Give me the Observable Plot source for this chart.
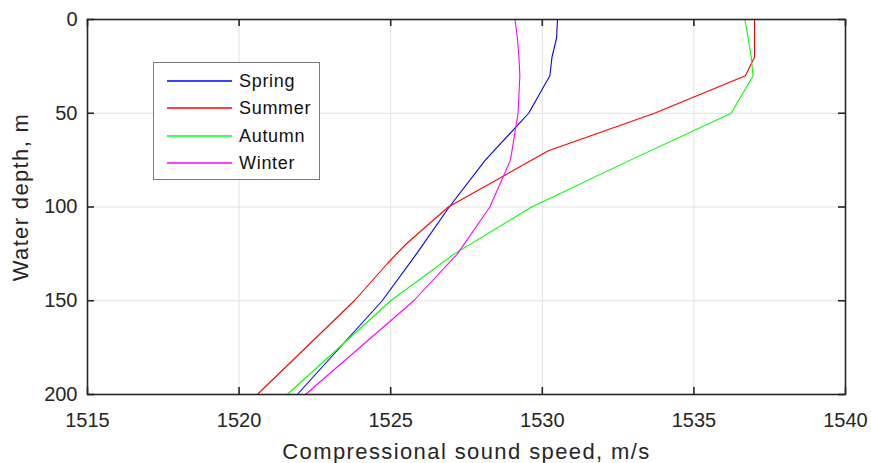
<!DOCTYPE html>
<html>
<head>
<meta charset="utf-8">
<script src="https://cdn.jsdelivr.net/npm/d3@7"></script>
<script src="https://cdn.jsdelivr.net/npm/@observablehq/plot@0.6"></script>
<style>
  html, body { margin: 0; padding: 0; background: #fff; }
  #wrap { position: relative; width: 871px; height: 463px; font-family: "Liberation Sans", Arial, sans-serif; }
  #wrap > svg { overflow: visible; }
  #legend { position: absolute; left: 153px; top: 62px; width: 167px; height: 118px; border: 1px solid #7a7a7a; background: #fff; box-sizing: border-box; }
  #legend svg { position: absolute; left: 0; top: 0; }
  .lab { position: absolute; left: 85px; font-size: 18px; letter-spacing: 0.7px; color: #111; white-space: nowrap; line-height: 20px; }
</style>
</head>
<body>
<div id="wrap"><div id="legend"></div></div>
<script>
const seriesNames = ["Spring", "Summer", "Autumn", "Winter"];
const seriesColors = ["#0000ff", "#ff0000", "#00ff00", "#ff00ff"];

const springDepth = [0, 10, 20, 30, 50, 75, 100, 125, 150, 200];
const springSpeed = [1530.5, 1530.47, 1530.32, 1530.25, 1529.55, 1528.12, 1526.93, 1525.85, 1524.72, 1521.92];

const summerDepth = [0, 20, 30, 50, 70, 100, 120, 130, 150, 200];
const summerSpeed = [1537.0, 1537.0, 1536.7, 1533.7, 1530.2, 1526.9, 1525.49, 1524.9, 1523.8, 1520.6];

const autumnDepth = [0, 10, 20, 30, 50, 75, 100, 125, 150, 200];
const autumnSpeed = [1536.68, 1536.79, 1536.89, 1536.95, 1536.23, 1532.9, 1529.65, 1527.1, 1525.0, 1521.59];

const winterDepth = [0, 10, 20, 30, 50, 75, 100, 125, 150, 200];
const winterSpeed = [1529.1, 1529.18, 1529.23, 1529.26, 1529.2, 1528.95, 1528.27, 1527.2, 1525.76, 1522.19];

const xTicks = [1515, 1520, 1525, 1530, 1535, 1540];
const yTicks = [0, 50, 100, 150, 200];
const xLabel = "Compressional sound speed, m/s";
const yLabel = "Water depth, m";

const depthArrays = [springDepth, summerDepth, autumnDepth, winterDepth];
const speedArrays = [springSpeed, summerSpeed, autumnSpeed, winterSpeed];
const data = [];
seriesNames.forEach((name, i) => {
  depthArrays[i].forEach((d, j) => data.push({season: name, depth: d, speed: speedArrays[i][j]}));
});

const W = 871, H = 463, mL = 87, mR = 26, mT = 19, mB = 69;
const plotW = W - mL - mR, plotH = H - mT - mB;
const tickLen = 7;
const axisColor = "#262626";

const chart = Plot.plot({
  width: W, height: H,
  marginLeft: mL, marginRight: mR, marginTop: mT, marginBottom: mB,
  style: {fontFamily: '"Liberation Sans", Arial, sans-serif', color: axisColor, background: "transparent", overflow: "visible"},
  x: {domain: [1515, 1540]},
  y: {domain: [0, 200], reverse: true},
  color: {domain: seriesNames, range: seriesColors},
  marks: [
    Plot.ruleX(xTicks.slice(1, -1), {stroke: "#e2e2e2", strokeWidth: 1}),
    Plot.ruleY(yTicks.slice(1, -1), {stroke: "#e2e2e2", strokeWidth: 1}),
    Plot.line(data, {x: "speed", y: "depth", z: "season", stroke: "season", strokeWidth: 1.1, sort: null}),
    Plot.tickX(xTicks, {x: d => d, insetTop: plotH - tickLen, stroke: axisColor, strokeWidth: 1.6}),
    Plot.tickX(xTicks, {x: d => d, insetBottom: plotH - tickLen, stroke: axisColor, strokeWidth: 1.6}),
    Plot.tickY(yTicks, {y: d => d, insetRight: plotW - tickLen, stroke: axisColor, strokeWidth: 1.6}),
    Plot.tickY(yTicks, {y: d => d, insetLeft: plotW - tickLen, stroke: axisColor, strokeWidth: 1.6}),
    Plot.frame({stroke: axisColor, strokeWidth: 1.6}),
    Plot.axisX(xTicks, {anchor: "bottom", tickSize: 0, tickPadding: 18, fontSize: 20, label: null, fill: axisColor, tickFormat: d => String(d)}),
    Plot.axisY(yTicks, {anchor: "left", tickSize: 0, tickPadding: 10, fontSize: 20, label: null, fill: axisColor, tickFormat: d => String(d)}),
    Plot.text([xLabel], {text: d => d, frameAnchor: "bottom", textAnchor: "middle", dy: 49, fontSize: 22, fill: axisColor, lineAnchor: "top"}),
    Plot.text([yLabel], {text: d => d, frameAnchor: "left", textAnchor: "middle", dx: -75, dy: -10, rotate: -90, fontSize: 22, fill: axisColor, lineAnchor: "top"})
  ]
});
chart.querySelectorAll("text").forEach(t => {
  if (t.textContent === xLabel) t.style.letterSpacing = "1.4px";
  if (t.textContent === yLabel) t.style.letterSpacing = "1.35px";
});
const wrap = document.getElementById("wrap");
wrap.insertBefore(chart, wrap.firstChild);

const legend = document.getElementById("legend");
const rowCenters = [18, 45, 73, 100];
const ns = "http://www.w3.org/2000/svg";
const lsvg = document.createElementNS(ns, "svg");
lsvg.setAttribute("width", 165);
lsvg.setAttribute("height", 116);
legend.appendChild(lsvg);
seriesNames.forEach((name, i) => {
  const ln = document.createElementNS(ns, "line");
  ln.setAttribute("x1", 13);
  ln.setAttribute("x2", 78);
  ln.setAttribute("y1", rowCenters[i]);
  ln.setAttribute("y2", rowCenters[i]);
  ln.setAttribute("stroke", seriesColors[i]);
  ln.setAttribute("stroke-width", 1.6);
  lsvg.appendChild(ln);
  const lab = document.createElement("div");
  lab.className = "lab";
  lab.style.top = (rowCenters[i] - 10) + "px";
  lab.textContent = name;
  legend.appendChild(lab);
});
</script>
</body>
</html>
